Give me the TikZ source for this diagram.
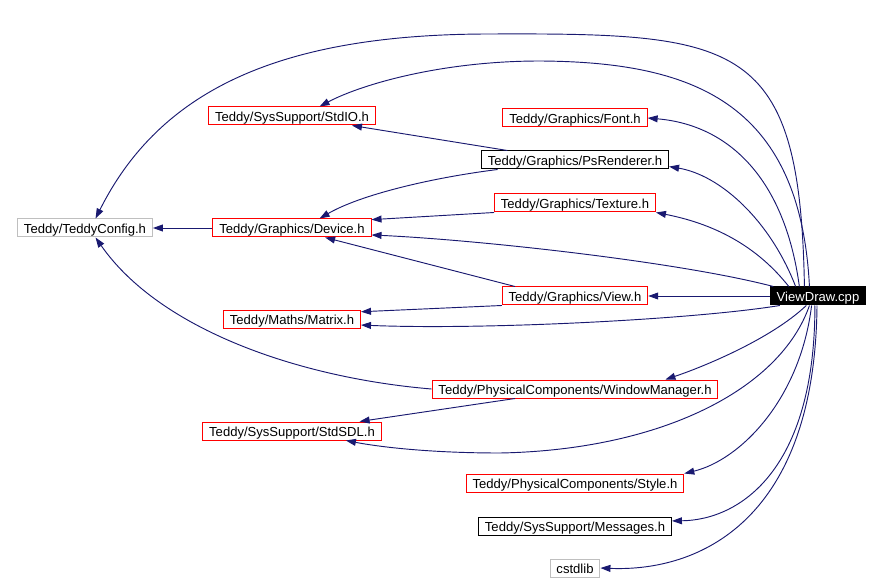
\documentclass[tikz,border=0pt]{standalone}
\usepackage{fontspec}
\setmainfont{Liberation Sans}
\usetikzlibrary{arrows.meta}
\definecolor{edgeblue}{HTML}{191970}
\definecolor{boxgrey}{HTML}{BFBFBF}
\tikzset{
	file/.style={draw, line width=0.75pt, inner xsep=4.8pt, inner ysep=0pt, minimum height=13.5pt,
		font=\fontsize{9.8}{12}\selectfont, text height=9.5pt, text depth=1pt},
	redfile/.style={file, draw=red},
	blackfile/.style={file, draw=black},
	greyfile/.style={file, draw=boxgrey},
	dep/.style={-{Triangle[length=7.5pt,width=5.2pt]}, edgeblue, line width=0.7pt},
}
\begin{document}
\begin{tikzpicture}[x=0.75pt,y=-0.75pt]
		\useasboundingbox (0,0) rectangle (884,584);
		\node[greyfile] (cfg) at (85,228) {Teddy/TeddyConfig.h};
		\node[redfile] (dev) at (292,228) {Teddy/Graphics/Device.h};
		\node[redfile] (stdio) at (292,116) {Teddy/SysSupport/StdIO.h};
		\node[redfile] (matrix) at (292,319) {Teddy/Maths/Matrix.h};
		\node[redfile] (font) at (575,118) {Teddy/Graphics/Font.h};
		\node[blackfile] (ps) at (575,160) {Teddy/Graphics/PsRenderer.h};
		\node[redfile] (tex) at (575,203) {Teddy/Graphics/Texture.h};
		\node[redfile] (view) at (575,296) {Teddy/Graphics/View.h};
		\node[file, fill=black, text=white] (vd) at (818,296) {ViewDraw.cpp};
		\node[redfile] (wm) at (575,389) {Teddy/PhysicalComponents/WindowManager.h};
		\node[redfile] (sdl) at (292,431) {Teddy/SysSupport/StdSDL.h};
		\node[redfile] (style) at (575,483) {Teddy/PhysicalComponents/Style.h};
		\node[blackfile] (msg) at (575,526) {Teddy/SysSupport/Messages.h};
		\node[greyfile] (cstd) at (575,568) {cstdlib};
		\draw[dep] (vd.145) .. controls (800,40) and (740,33) .. (490,34) .. controls (280,34) and (160,90) .. (cfg.42);
		\draw[dep] (vd.132) .. controls (800,100) and (690,62) .. (540,61) .. controls (440,61) and (360,85) .. (stdio.19);
		\draw[dep] (vd.153) .. controls (785,180) and (730,125) .. (font.east);
		\draw[dep] (vd.157) .. controls (770,220) and (720,175) .. (ps.-4);
		\draw[dep] (vd.162) .. controls (760,250) and (720,225) .. (tex.south east);
		\draw[dep] (vd.168) .. controls (680,262) and (480,240) .. (dev.-5);
		\draw[dep] (vd.west) -- (view.east);
		\draw[dep] (vd.194) .. controls (690,320) and (480,330) .. (matrix.-5);
		\draw[dep] (vd.219) .. controls (770,340) and (700,368) .. (wm.6);
		\draw[dep] (vd.228) .. controls (780,390) and (660,450) .. (500,453) .. controls (430,453) and (380,447) .. (sdl.350);
		\draw[dep] (vd.236) .. controls (800,400) and (740,460) .. (style.north east);
		\draw[dep] (vd.252) .. controls (815,470) and (740,520) .. (msg.3);
		\draw[dep] (vd.264) .. controls (815,520) and (700,572) .. (cstd.east);
		\draw[dep] (dev.west) -- (cfg.east);
		\draw[dep] (ps.172) -- (stdio.-9);
		\draw[dep] (ps.187) .. controls (430,178) and (360,195) .. (dev.19);
		\draw[dep] (tex.south west) -- (dev.6);
		\draw[dep] (view.171) -- (dev.-16);
		\draw[dep] (view.south west) -- (matrix.6);
		\draw[dep] (wm.west) .. controls (300,378) and (160,330) .. (cfg.318);
		\draw[dep] (wm.189) -- (sdl.8);
\end{tikzpicture}
\end{document}
